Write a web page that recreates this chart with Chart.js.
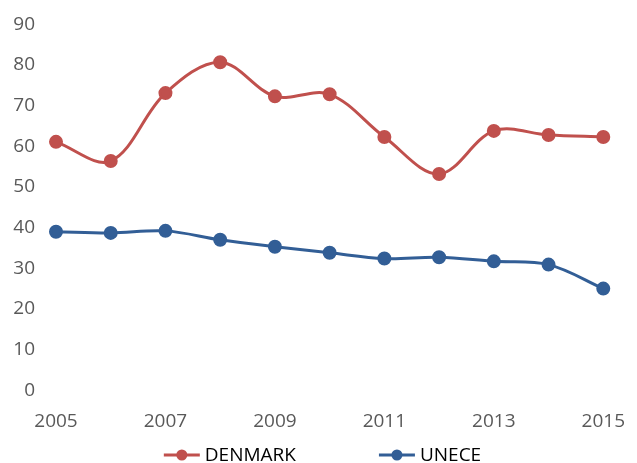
<!DOCTYPE html>
<html>
<head>
<meta charset="utf-8">
<script src="https://cdn.jsdelivr.net/npm/chart.js@4/dist/chart.umd.min.js"></script>
<style>
  html, body { margin: 0; padding: 0; background: #fff; }
  #wrap { width: 637px; height: 463px; }
</style>
</head>
<body>
<div id="wrap"><canvas id="lineChart"></canvas></div>
<script>
var years = ["2005", "2006", "2007", "2008", "2009", "2010", "2011", "2012", "2013", "2014", "2015"];
var denmark = [61.1, 56.4, 73.1, 80.7, 72.3, 72.8, 62.3, 53.2, 63.8, 62.8, 62.3];
var unece = [39.0, 38.7, 39.2, 37.0, 35.3, 33.8, 32.4, 32.7, 31.7, 30.9, 25.0];

var red = "#C0504D";
var blue = "#325E96";

// bottom legend drawn like Excel's: short line with a dot, then the name
var lineLegend = {
    id: "lineLegend",
    afterDraw: function (chart) {
        var g = chart.ctx;
        var sets = chart.data.datasets;
        g.save();
        g.font = "19px 'Open Sans'";
        g.textBaseline = "middle";
        var widths = sets.map(function (ds) { return 36 + 5 + g.measureText(ds.label).width; });
        var total = widths.reduce(function (a, b) { return a + b; }, 0) + 83 * (sets.length - 1);
        var x = chart.width / 2 + 4 - total / 2;
        var y = 455;
        sets.forEach(function (ds, i) {
            g.strokeStyle = ds.borderColor;
            g.lineWidth = 3;
            g.beginPath(); g.moveTo(x, y); g.lineTo(x + 36, y); g.stroke();
            g.fillStyle = ds.borderColor;
            g.beginPath(); g.arc(x + 18, y, 5.5, 0, Math.PI * 2); g.fill();
            g.fillStyle = "#000";
            g.fillText(ds.label, x + 41, y + 1);
            x += widths[i] + 83;
        });
        g.restore();
    }
};

document.addEventListener("DOMContentLoaded", function () {
    var ctx = document.getElementById("lineChart").getContext("2d");
    new Chart(ctx, {
        type: "line",
        data: {
            labels: years,
            datasets: [{
                label: "DENMARK",
                data: denmark,
                borderColor: red,
                backgroundColor: red,
                borderWidth: 3,
                pointRadius: 5.5,
                pointHoverRadius: 5.5,
                tension: 0.35
            }, {
                label: "UNECE",
                data: unece,
                borderColor: blue,
                backgroundColor: blue,
                borderWidth: 3,
                pointRadius: 5.5,
                pointHoverRadius: 5.5,
                tension: 0.35
            }]
        },
        options: {
            responsive: true,
            maintainAspectRatio: false,
            animation: false,
            layout: { padding: { top: 14, right: 28, left: 0, bottom: 18 } },
            plugins: {
                tooltip: { enabled: false },
                legend: { display: false }
            },
            scales: {
                x: {
                    grid: { display: false },
                    border: { display: false },
                    ticks: {
                        color: "#595959",
                        font: { family: "Open Sans", size: 19 },
                        padding: 12,
                        autoSkip: false,
                        maxRotation: 0,
                        callback: function (v, i) { return i % 2 === 0 ? years[i] : ""; }
                    }
                },
                y: {
                    min: 0,
                    max: 90,
                    grid: { display: false },
                    border: { display: false },
                    ticks: {
                        stepSize: 10,
                        color: "#595959",
                        font: { family: "Open Sans", size: 19 },
                        padding: 13
                    },
                    afterFit: function (scale) { scale.width = 56; }
                }
            }
        },
        plugins: [lineLegend]
    });
});
</script>
</body>
</html>
